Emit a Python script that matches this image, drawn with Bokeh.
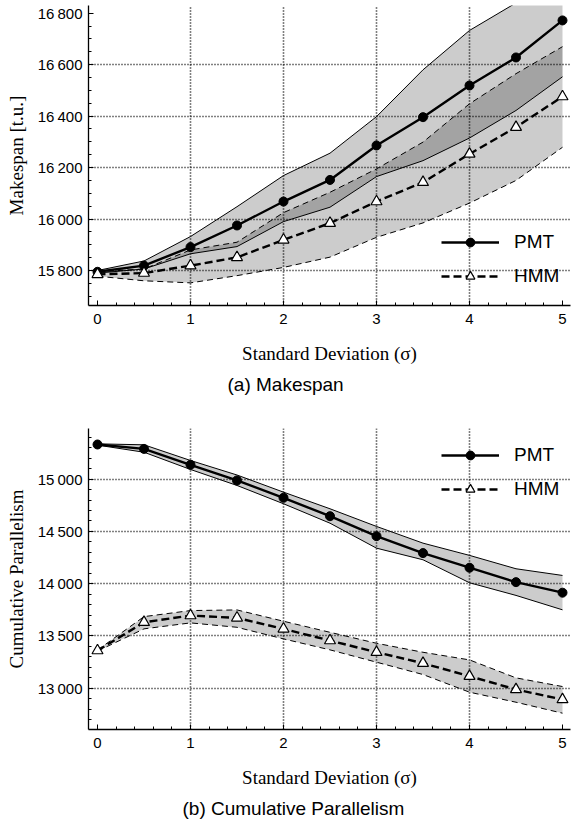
import numpy as np
from bokeh.plotting import figure
from bokeh.models import Range1d, FixedTicker, Legend, LegendItem, Title
from bokeh.layouts import column
from bokeh.embed import file_html
from bokeh.resources import INLINE

# ---------------- data ----------------
sigma = [0, 0.5, 1, 1.5, 2, 2.5, 3, 3.5, 4, 4.5, 5]

# (a) Makespan
ms_pmt_mean = [15795, 15819, 15891, 15975, 16068, 16152, 16286, 16396, 16519, 16628, 16772]
ms_pmt_hi = [15800, 15837, 15932, 16048, 16169, 16256, 16398, 16580, 16733, 16840, 16950]
ms_pmt_lo = [15790, 15806, 15865, 15893, 15990, 16046, 16165, 16227, 16315, 16422, 16553]
ms_hmm_mean = [15785, 15790, 15819, 15851, 15919, 15984, 16068, 16143, 16253, 16357, 16476]
ms_hmm_hi = [15795, 15806, 15880, 15910, 16025, 16104, 16195, 16299, 16448, 16565, 16670]
ms_hmm_lo = [15778, 15760, 15752, 15780, 15812, 15852, 15929, 15985, 16062, 16150, 16279]

# (b) Cumulative Parallelism
cp_pmt_mean = [15332, 15290, 15138, 14988, 14822, 14646, 14455, 14293, 14153, 14015, 13914]
cp_pmt_hi = [15338, 15329, 15179, 15040, 14876, 14717, 14548, 14388, 14271, 14143, 14079]
cp_pmt_lo = [15326, 15258, 15093, 14940, 14765, 14579, 14340, 14229, 14009, 13888, 13750]
cp_hmm_mean = [13360, 13631, 13695, 13673, 13568, 13456, 13344, 13239, 13115, 12988, 12892]
cp_hmm_hi = [13365, 13685, 13743, 13749, 13641, 13535, 13430, 13344, 13271, 13099, 13016]
cp_hmm_lo = [13355, 13568, 13625, 13583, 13472, 13367, 13249, 13131, 12962, 12866, 12761]

x_ticks = [0, 1, 2, 3, 4, 5]
x_grid = [1, 2, 3, 4]
ms_ticks = [15800, 16000, 16200, 16400, 16600, 16800]
ms_grid = [15800, 16000, 16200, 16400, 16600]
cp_ticks = [13000, 13500, 14000, 14500, 15000]
cp_grid = [13000, 13500, 14000, 14500, 15000]

x_label = "Standard Deviation (σ)"
ms_label = "Makespan [t.u.]"
cp_label = "Cumulative Parallelism"
ms_caption = "(a) Makespan"
cp_caption = "(b) Cumulative Parallelism"
series_names = ["PMT", "HMM"]


def fmt(v):
    return f"{v // 1000}\u2009{v % 1000:03d}"


def make_plot(frame_h, y_range, mb_top, mb_bottom, yticks, yminor, ygrid, ylabel,
              caption, cap_offset, data, legend_loc):
    p = figure(frame_width=482, frame_height=frame_h, output_backend="svg",
               toolbar_location=None,
               x_range=Range1d(-0.0968, 5.086), y_range=Range1d(*y_range),
               min_border_left=88, min_border_right=1, min_border_top=mb_top,
               min_border_bottom=mb_bottom)
    p.outline_line_color = None
    p.background_fill_color = "white"
    p.border_fill_color = "white"

    p.xaxis.ticker = FixedTicker(ticks=x_ticks,
                                 minor_ticks=[round(v, 2) for v in np.arange(0, 5.21, 0.2)])
    p.yaxis.ticker = FixedTicker(ticks=yticks, minor_ticks=yminor)
    p.yaxis.major_label_overrides = {v: fmt(v) for v in yticks}
    p.xgrid.ticker = FixedTicker(ticks=x_grid)
    p.ygrid.ticker = FixedTicker(ticks=ygrid)
    for g in (p.xgrid[0], p.ygrid[0]):
        g.grid_line_color = "black"
        g.grid_line_dash = "1 2"
        g.grid_line_width = 1.6

    for ax in (p.xaxis[0], p.yaxis[0]):
        ax.axis_line_color = "black"
        ax.axis_line_width = 1.3
        ax.major_tick_in = 5
        ax.major_tick_out = 0
        ax.minor_tick_in = 3
        ax.minor_tick_out = 0
        ax.major_tick_line_color = "black"
        ax.minor_tick_line_color = "black"
        ax.major_label_text_font = "Liberation Sans"
        ax.major_label_text_font_size = "15px"
        ax.major_label_text_color = "black"
        ax.axis_label_text_font = "Liberation Serif"
        ax.axis_label_text_font_size = "19px"
        ax.axis_label_text_font_style = "normal"
        ax.axis_label_text_color = "black"
    p.xaxis.major_label_standoff = 8
    p.xaxis.axis_label_standoff = 16
    p.yaxis.major_label_standoff = 6
    p.yaxis.axis_label_standoff = 8
    p.xaxis.axis_label = x_label
    p.yaxis.axis_label = ylabel

    pm, ph, pl, hm, hh, hl = data
    # bands
    p.varea(x=sigma, y1=pl, y2=ph, fill_color="black", fill_alpha=0.2)
    p.varea(x=sigma, y1=hl, y2=hh, fill_color="black", fill_alpha=0.2)
    p.line(sigma, ph, line_color="black", line_width=1)
    p.line(sigma, pl, line_color="black", line_width=1)
    p.line(sigma, hh, line_color="black", line_width=1, line_dash="6 4")
    p.line(sigma, hl, line_color="black", line_width=1, line_dash="6 4")
    # means
    l1 = p.line(sigma, pm, line_color="black", line_width=2.4)
    l2 = p.line(sigma, hm, line_color="black", line_width=2.4, line_dash="8 4")
    s1 = p.scatter(sigma, pm, marker="circle", size=9, fill_color="black", line_color="black")
    s2 = p.scatter(sigma, hm, marker="triangle", size=11, fill_color="white",
                   line_color="black", line_width=1.2)

    leg = Legend(items=[LegendItem(label=series_names[0], renderers=[l1, s1]),
                        LegendItem(label=series_names[1], renderers=[l2, s2])],
                 location=legend_loc, padding=0, spacing=12, glyph_width=58,
                 glyph_height=22, label_height=22, label_standoff=15,
                 border_line_color=None, background_fill_alpha=0,
                 label_text_font="Liberation Sans", label_text_font_size="19px",
                 label_text_color="black")
    p.add_layout(leg)

    t = Title(text=caption, align="left", offset=cap_offset, text_font="Liberation Sans",
              text_font_size="19px", text_font_style="normal", text_color="black",
              standoff=10)
    p.add_layout(t, "below")
    return p


p1 = make_plot(300, (15664, 16830), 5, 100, ms_ticks, list(range(15650, 16851, 50)),
               ms_grid, ms_label, ms_caption, 139,
               (ms_pmt_mean, ms_pmt_hi, ms_pmt_lo, ms_hmm_mean, ms_hmm_hi, ms_hmm_lo),
               (353, 18))
p2 = make_plot(301, (12605, 15485), 23, 96, cp_ticks, list(range(12700, 15401, 100)),
               cp_grid, cp_label, cp_caption, 94,
               (cp_pmt_mean, cp_pmt_hi, cp_pmt_lo, cp_hmm_mean, cp_hmm_hi, cp_hmm_lo),
               (353, 229))

layout = column(p1, p2, spacing=0)
open("out.html", "w").write(file_html(layout, INLINE))
